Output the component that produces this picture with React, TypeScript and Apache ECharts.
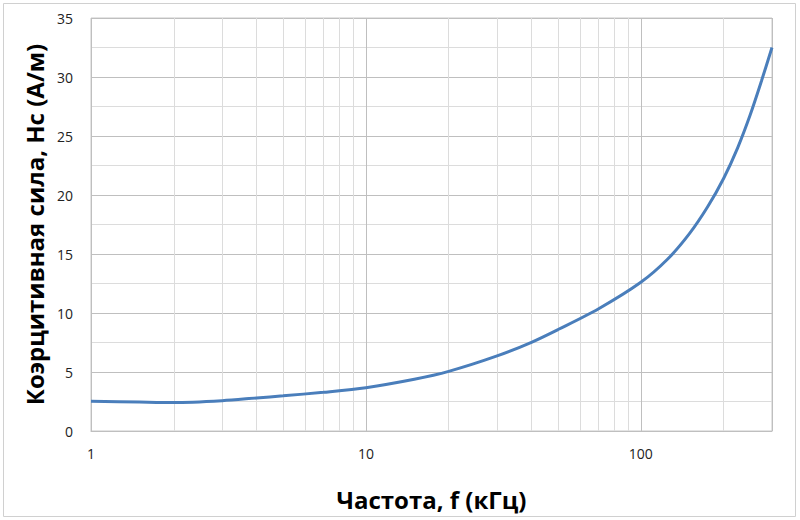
import React, { useEffect, useRef } from "react";
import * as echarts from "echarts";

const freq = [1, 1.5, 2, 3, 4, 5, 7, 10, 15, 20, 30, 40, 50, 70, 100, 125, 150, 175, 200, 225, 250, 275, 300];
const hc = [2.52, 2.45, 2.41, 2.57, 2.8, 2.98, 3.28, 3.67, 4.38, 5.05, 6.36, 7.52, 8.6, 10.34, 12.6, 14.55, 16.7, 19.0, 21.4, 24.0, 26.8, 29.7, 32.5];
const minorFreqLines = [2, 3, 4, 5, 6, 7, 8, 9, 20, 30, 40, 50, 60, 70, 80, 90, 200];
const xLabels = [1, 10, 100];
const xTitle = "Частота, f (кГц)";
const yTitle = "Коэрцитивная сила, Hc (А/м)";

export default function App() {
  const ref = useRef<HTMLDivElement>(null);
  useEffect(() => {
    document.body.style.margin = "0";
    const chart = echarts.init(ref.current!, null, { renderer: "svg" });
    const pts = freq.map((f, i) => [f, hc[i]]);
    chart.setOption({
      animation: false,
      backgroundColor: "#fff",
      grid: { left: 91, right: 28, top: 18, bottom: 89, show: true, borderColor: "#c8c8c8", borderWidth: 1 },
      graphic: [
        {
          type: "rect",
          shape: { x: 3.5, y: 3.5, width: 792, height: 513 },
          style: { fill: "none", stroke: "#d0d0d0", lineWidth: 1 },
          silent: true,
        },
      ],
      xAxis: {
        type: "log",
        logBase: 10,
        min: 1,
        max: 300,
        name: xTitle,
        nameLocation: "middle",
        nameGap: 56,
        nameTextStyle: { fontFamily: "Open Sans", fontWeight: "bold", fontSize: 24, color: "#000" },
        axisLine: { show: true, lineStyle: { color: "#bfbfbf", width: 1 } },
        axisTick: { show: false },
        axisLabel: {
          margin: 15,
          fontFamily: "Open Sans",
          fontSize: 14,
          color: "#222",
          showMaxLabel: false,
          formatter: (v: number) => (xLabels.indexOf(Math.round(v)) >= 0 && Math.abs(v - Math.round(v)) < 1e-6 ? String(Math.round(v)) : ""),
        },
        splitLine: { show: true, lineStyle: { color: "#bfbfbf", width: 1 } },
        minorSplitLine: { show: false },
      },
      yAxis: {
        type: "value",
        min: 0,
        max: 35,
        interval: 5,
        name: yTitle,
        nameLocation: "middle",
        nameGap: 42,
        nameRotate: 90,
        nameTextStyle: { fontFamily: "Open Sans", fontWeight: "bold", fontSize: 24, color: "#000" },
        axisLine: { show: false },
        axisTick: { show: false },
        axisLabel: { margin: 18, fontFamily: "Open Sans", fontSize: 14, color: "#222" },
        splitLine: { show: true, lineStyle: { color: "#bfbfbf", width: 1 } },
        minorTick: { show: false, splitNumber: 2 },
        minorSplitLine: { show: true, lineStyle: { color: "#dcdcdc", width: 1 } },
      },
      series: [
        {
          type: "line",
          data: pts,
          z: 1,
          symbol: "none",
          lineStyle: { opacity: 0 },
          silent: true,
          markLine: {
            silent: true,
            symbol: "none",
            label: { show: false },
            lineStyle: { color: "#dcdcdc", width: 1, type: "solid" },
            data: minorFreqLines.map((f) => ({ xAxis: f })),
          },
        },
        {
          type: "line",
          data: pts,
          z: 5,
          smooth: 0.3,
          symbol: "none",
          lineStyle: { color: "#4a7ebb", width: 3 },
        },
      ],
    });
    return () => chart.dispose();
  }, []);
  return <div ref={ref} style={{ width: 800, height: 520 }} />;
}
